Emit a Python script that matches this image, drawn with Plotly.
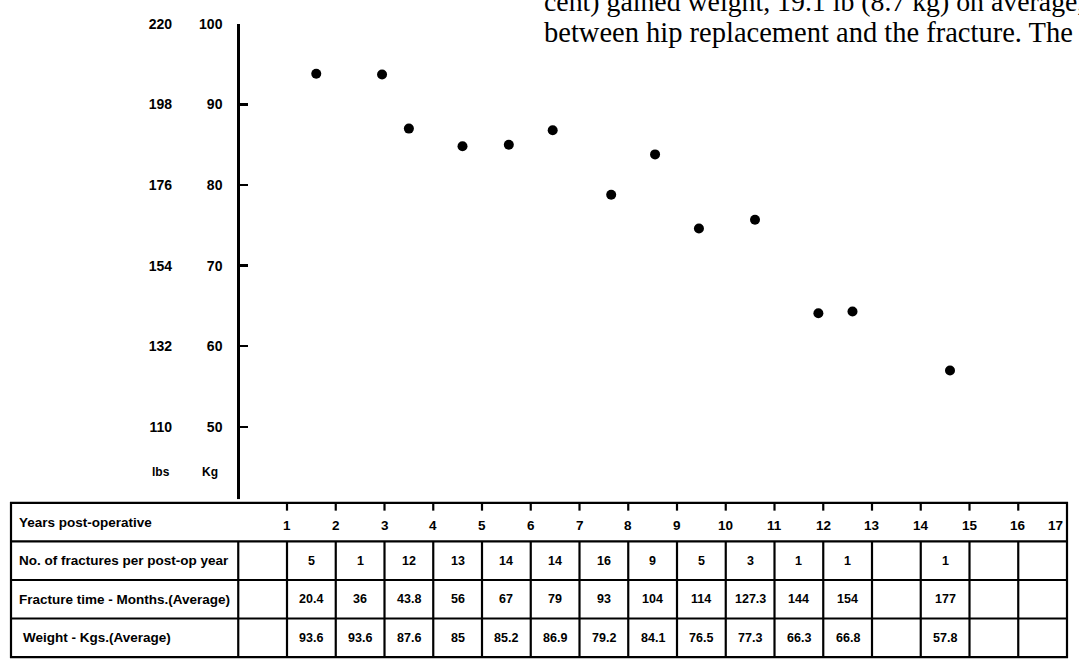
import plotly.graph_objects as go

# ---------------- data ----------------
year_ticks = list(range(1, 18))
fractures_per_year = ["5", "1", "12", "13", "14", "14", "16", "9", "5", "3", "1", "1", "", "1", "", ""]
fracture_months = ["20.4", "36", "43.8", "56", "67", "79", "93", "104", "114", "127.3", "144", "154", "", "177", "", ""]
weight_kg_table = ["93.6", "93.6", "87.6", "85", "85.2", "86.9", "79.2", "84.1", "76.5", "77.3", "66.3", "66.8", "", "57.8", "", ""]

# plotted points: x = years post-op, y = kg
point_years = [1.6, 2.95, 3.5, 4.6, 5.55, 6.45, 7.65, 8.55, 9.45, 10.6, 11.9, 12.6, 14.6]
point_kg = [93.8, 93.7, 87.0, 84.8, 85.0, 86.8, 78.8, 83.8, 74.6, 75.7, 64.1, 64.3, 57.0]

kg_ticks = [50, 60, 70, 80, 90, 100]
lbs_ticks = [110, 132, 154, 176, 198, 220]

row_labels = ["Years post-operative",
              "No. of fractures per post-op year",
              "Fracture time - Months.(Average)",
              "Weight - Kgs.(Average)"]
body_text = ["cent) gained weight, 19.1 lb (8.7 kg) on average,",
             "between hip replacement and the fracture. The"]

# ---------------- layout constants ----------------
W, H = 1079, 661
AXIS_PX = 238.25          # pixel x of the y axis (year 0)
PX_PER_YEAR = 48.75
X_RANGE = [-AXIS_PX / PX_PER_YEAR, (W - AXIS_PX) / PX_PER_YEAR]
TABLE_LEFT = (11 - AXIS_PX) / PX_PER_YEAR
TABLE_RIGHT = 17
KG_RANGE = [40.56, 100]
KG_DOMAIN = [(H - 501) / H, (H - 16) / H]
ROW_PX = 39
T_DOMAIN = [(H - 657 - 0.1 * ROW_PX) / H, (H - 501 + 0.1 * ROW_PX) / H]
SANS = "Liberation Sans"
SERIF = "Liberation Serif"
BLACK = "#000000"

fig = go.Figure()

fig.add_trace(go.Scatter(
    x=point_years, y=point_kg, mode="markers",
    marker=dict(color=BLACK, size=10, line=dict(width=0)),
    xaxis="x", yaxis="y", cliponaxis=False, hoverinfo="skip"))

# invisible trace creating the table subplot
fig.add_trace(go.Scatter(x=[0], y=[0], mode="markers", marker=dict(opacity=0),
                         xaxis="x", yaxis="y2", hoverinfo="skip"))
# invisible trace so the lbs axis is drawn
fig.add_trace(go.Scatter(x=[0], y=[150], mode="markers", marker=dict(opacity=0),
                         xaxis="x", yaxis="y3", hoverinfo="skip"))

shapes = []
LW = 2.2
# table frame and row separators
shapes.append(dict(type="rect", xref="x", yref="y2", x0=TABLE_LEFT, x1=TABLE_RIGHT, y0=0, y1=4,
                   line=dict(color=BLACK, width=LW)))
for r in (1, 2, 3):
    shapes.append(dict(type="line", xref="x", yref="y2", x0=TABLE_LEFT, x1=TABLE_RIGHT, y0=r, y1=r,
                       line=dict(color=BLACK, width=LW)))
# column dividers in rows 2-4
for c in range(0, 17):
    shapes.append(dict(type="line", xref="x", yref="y2", x0=c, x1=c, y0=1, y1=4,
                       line=dict(color=BLACK, width=LW)))
# header ticks
for c in range(1, 17):
    shapes.append(dict(type="line", xref="x", yref="y2", x0=c, x1=c, y0=0, y1=0.2,
                       line=dict(color=BLACK, width=LW)))

BOLD = dict(family=SANS, color=BLACK, weight="bold")
annotations = []
# row labels
for i, lab in enumerate(row_labels):
    annotations.append(dict(text=lab, xref="x", yref="y2", x=TABLE_LEFT, y=i + 0.5,
                            xanchor="left", yanchor="middle", xshift=6 if i < 3 else 10,
                            showarrow=False, font=dict(BOLD, size=13.5)))
# year labels
for yv in year_ticks:
    annotations.append(dict(text=str(yv), xref="x", yref="y2", x=yv, y=0.58,
                            xanchor="right" if yv == 17 else "center", yanchor="middle",
                            xshift=-2 if yv == 17 else 0,
                            showarrow=False, font=dict(BOLD, size=13.5)))
# table cells
for row, vals in ((1, fractures_per_year), (2, fracture_months), (3, weight_kg_table)):
    for c, v in enumerate(vals):
        if v:
            annotations.append(dict(text=v, xref="x", yref="y2", x=c + 1.5, y=row + 0.5,
                                    xanchor="center", yanchor="middle", showarrow=False,
                                    font=dict(BOLD, size=12.5)))
# unit labels
annotations.append(dict(text="Kg", xref="x", yref="y", x=0, y=44.4, xanchor="right", yanchor="middle",
                        xshift=-18, showarrow=False, font=dict(BOLD, size=12)))
annotations.append(dict(text="lbs", xref="x", yref="y", x=0, y=44.4, xanchor="right", yanchor="middle",
                        xshift=-66, showarrow=False, font=dict(BOLD, size=12)))
# body text from the page (first line is cut by the page edge, as in the scan)
annotations.append(dict(text=body_text[0], xref="paper", yref="paper", x=542 / W, y=1 + 7 / H,
                        xanchor="left", yanchor="middle", showarrow=False,
                        font=dict(family=SERIF, size=27.8, color=BLACK)))
annotations.append(dict(text=body_text[1], xref="paper", yref="paper", x=542 / W, y=1 - 25 / H,
                        xanchor="left", yanchor="middle", showarrow=False,
                        font=dict(family=SERIF, size=28.5, color=BLACK)))

fig.update_layout(
    width=W, height=H, margin=dict(l=0, r=0, t=0, b=0),
    paper_bgcolor="white", plot_bgcolor="white", showlegend=False,
    xaxis=dict(domain=[0, 1], range=X_RANGE, visible=False, anchor="y", fixedrange=True),
    yaxis=dict(domain=KG_DOMAIN, range=KG_RANGE, anchor="free", position=AXIS_PX / W, side="left",
               showline=True, linecolor=BLACK, linewidth=3, showgrid=False, zeroline=False,
               ticks="inside", ticklen=8, tickwidth=2.5, tickcolor=BLACK,
               tickvals=kg_ticks, ticktext=[str(v) for v in kg_ticks], ticklabelstandoff=12,
               tickfont=dict(BOLD, size=14)),
    yaxis3=dict(overlaying="y", range=[KG_RANGE[0] * 2.2, KG_RANGE[1] * 2.2], anchor="free",
                position=172 / W, side="left", showline=False, showgrid=False, zeroline=False,
                ticks="", tickvals=lbs_ticks, ticktext=[str(v) for v in lbs_ticks],
                tickfont=dict(BOLD, size=14)),
    yaxis2=dict(domain=T_DOMAIN, range=[4.1, -0.1], anchor="x", visible=False, fixedrange=True),
    shapes=shapes, annotations=annotations,
)

fig.write_html("out.html", config={"displayModeBar": False, "staticPlot": True},
               post_script="document.body.style.margin='0';document.body.style.overflow='hidden';")
